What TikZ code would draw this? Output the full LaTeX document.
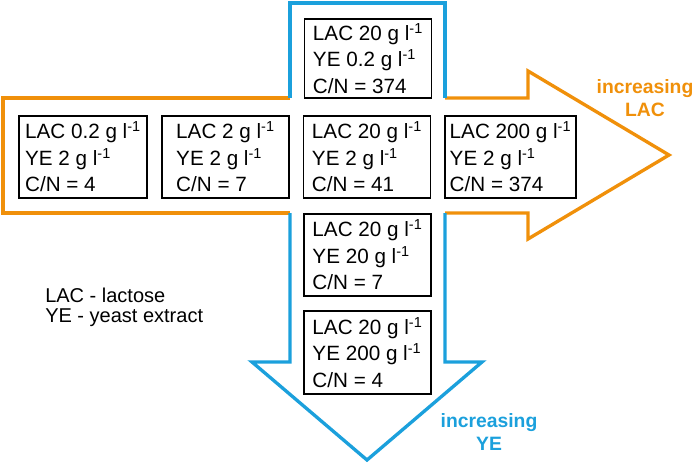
\documentclass[tikz,border=0pt]{standalone}
\usepackage{fontspec}
\setmainfont{Liberation Sans}
\definecolor{lacorange}{RGB}{240,144,10}
\definecolor{yeblue}{RGB}{27,160,220}
\newcommand{\gpl}{g l\textsuperscript{-1}}
\tikzset{
  cond/.style={draw, line width=1.4pt, inner sep=2pt, minimum width=95.25pt, minimum height=62pt, align=left, font=\fontsize{15.5}{19.8}\selectfont},
  lacline/.style={draw=lacorange, line width=2.5pt, line join=miter},
  yeline/.style={draw=yeblue, line width=2.5pt, line join=miter},
  trend/.style={align=center, font=\fontsize{14.5}{17.25}\selectfont\bfseries}
}
\begin{document}
\begin{tikzpicture}[x=0.75pt,y=0.75pt,yscale=-1,xscale=1]
	\useasboundingbox (0,0) rectangle (696,464);

	%Shape: Arrow [id:lac]
	\draw [lacline]  (290,98) -- (3,98) -- (3,213) -- (290,213) ;
	\draw [lacline]  (445,98) -- (528,98) -- (528,71) -- (669,155) -- (528,239) -- (528,213) -- (445,213) ;
	%Shape: Arrow [id:ye]
	\draw [yeline]  (290,98) -- (290,3) -- (445,3) -- (445,98) ;
	\draw [yeline]  (445,213) -- (445,362) -- (482,362) -- (367,460) -- (252,362) -- (290,362) -- (290,213) ;

	% Text Node
	\node [cond, minimum height=59.25pt] (lac20ye02) at (368,58.5) {LAC 20 \gpl\\YE 0.2 \gpl\\C/N = 374};
	% Text Node
	\node [cond, minimum width=96pt] (lac02ye2) at (83,157) {LAC 0.2 \gpl\\YE 2 \gpl\\C/N = 4};
	% Text Node
	\node [cond] (lac2ye2) at (225.5,157) {LAC 2 \gpl\\YE 2 \gpl\\C/N = 7};
	% Text Node
	\node [cond] (lac20ye2) at (367,157) {LAC 20 \gpl\\YE 2 \gpl\\C/N = 41};
	% Text Node
	\node [cond, minimum width=98.25pt] (lac200ye2) at (510.5,157) {LAC 200 \gpl\\YE 2 \gpl\\C/N = 374};
	% Text Node
	\node [cond, minimum height=61.5pt] (lac20ye20) at (367.5,255) {LAC 20 \gpl\\YE 20 \gpl\\C/N = 7};
	% Text Node
	\node [cond] (lac20ye200) at (367.5,352.5) {LAC 20 \gpl\\YE 200 \gpl\\C/N = 4};

	% Text Node
	\node [anchor=west, inner sep=0pt, align=left, font=\fontsize{15}{15}\selectfont] (legend) at (45,307) {LAC - lactose\\YE - yeast extract};
	% Text Node
	\node [trend, text=lacorange] (morelac) at (645,98) {increasing\\LAC};
	% Text Node
	\node [trend, text=yeblue] (moreye) at (489,432) {increasing\\YE};
\end{tikzpicture}
\end{document}
